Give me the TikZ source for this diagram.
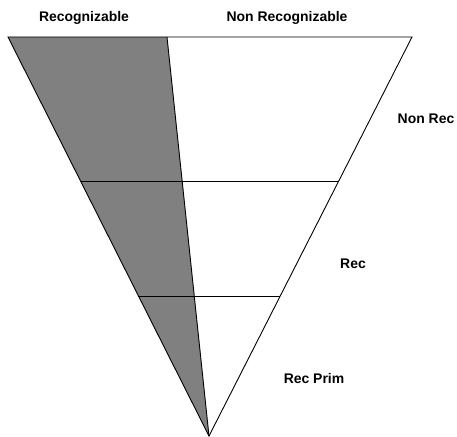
\documentclass[tikz,border=0pt]{standalone}
\usepackage{fontspec}
\setmainfont{Liberation Sans}
\usetikzlibrary{calc}
\begin{document}
\begin{tikzpicture}[x=1bp,y=-1bp,
  lbl/.style={font=\fontsize{14}{16}\selectfont\bfseries, inner sep=0pt, anchor=center},
  edge/.style={line width=0.9bp, black}]
\useasboundingbox (0,0) rectangle (457,437);
\coordinate (TL) at (8,37);
\coordinate (TR) at (412,37);
\coordinate (TM) at (167,37);
\coordinate (AP) at (209,436);
\fill[fill={rgb,255:red,128;green,128;blue,128}] (TL) -- (TM) -- (AP) -- cycle;
\draw[edge] (TL) -- (TR) -- (AP) -- cycle;
\draw[edge] (TM) -- (AP);
\coordinate (L1) at ($(TL)!0.361!(AP)$);
\coordinate (R1) at ($(TR)!0.361!(AP)$);
\coordinate (L2) at ($(TL)!0.649!(AP)$);
\coordinate (R2) at ($(TR)!0.649!(AP)$);
\draw[edge] (L1) -- (R1);
\draw[edge] (L2) -- (R2);
\node[lbl] (rcg) at (84,18) {Recognizable};
\node[lbl] (nrcg) at (287,18) {Non Recognizable};
\node[lbl] (nrec) at (426,119) {Non Rec};
\node[lbl] (rec) at (353,264) {Rec};
\node[lbl] (rprim) at (314,379) {Rec Prim};
\end{tikzpicture}
\end{document}
